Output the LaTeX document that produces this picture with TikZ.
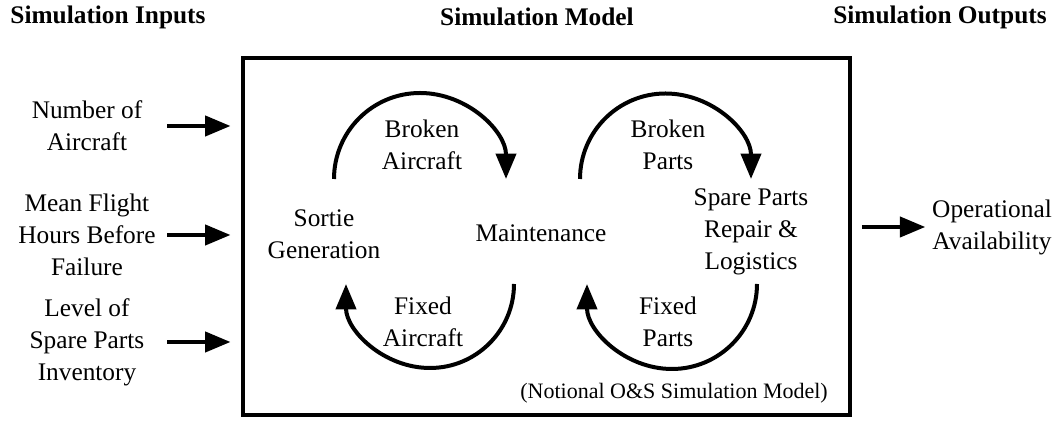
\documentclass[tikz,border=0pt]{standalone}
\usepackage{fontspec}
\setmainfont{Liberation Serif}
\usetikzlibrary{positioning, arrows.meta}

\begin{document}
\begin{tikzpicture}[x=0.75pt, y=0.75pt,
                  txt/.style={font=\fontsize{19}{24}\selectfont, align=center, inner sep=0pt},
                  hdr/.style={txt, font=\bfseries\fontsize{19}{24}\selectfont},
                  inbox/.style={txt, minimum width=120pt},
                  note/.style={txt, font=\fontsize{16.5}{20}\selectfont},
                  frame/.style={draw, line width=3pt, inner sep=0pt},
                  arr/.style={-{Triangle[length=19pt, width=15pt]}, line width=3pt},
            ]
            \useasboundingbox (0,0) rectangle (1060,423);

            \node[hdr] (hin) at (108,406) {Simulation Inputs};
            \node[hdr] (hmodel) at (537,406) {Simulation Model};
            \node[hdr] (hout) at (940,406) {Simulation Outputs};

            \node[frame, minimum width=455pt, minimum height=268pt] (model) at (546.5,186.5) {};

            \node[inbox] (nac) at (87,297) {Number of\\Aircraft};
            \node[inbox] (mfh) at (87,188) {Mean Flight\\Hours Before\\Failure};
            \node[inbox] (lsp) at (87,81) {Level of\\Spare Parts\\Inventory};
            \node[txt] (avail) at (992,196) {Operational\\Availability};

            \node[txt] (sortie) at (324,189) {Sortie\\Generation};
            \node[txt] (maint) at (541,190) {Maintenance};
            \node[txt] (spare) at (751,191) {Spare Parts\\Repair \&\\Logistics};

            \node[txt] (brokenac) at (422,278) {Broken\\Aircraft};
            \node[txt] (brokenpt) at (668,278) {Broken\\Parts};
            \node[txt] (fixedac) at (423,101) {Fixed\\Aircraft};
            \node[txt] (fixedpt) at (668,101) {Fixed\\Parts};
            \node[note, anchor=east] (notional) at (828,30) {(Notional O\&S Simulation Model)};

            \coordinate (sgout) at (334,244);
            \coordinate (mtout) at (580,244);
            \coordinate (mtback) at (514,139);
            \coordinate (spback) at (757,139);

            \foreach \n in {nac,mfh,lsp}
                  \draw[arr, shorten >=8pt] (\n.east) -- (\n.east -| model.west);
            \draw[arr, shorten <=7.5pt, shorten >=5pt] (model.east |- avail.west) -- (avail.west);

            \draw[arr] (sgout) arc[start angle=180, end angle=0, radius=86];
            \draw[arr] (mtout) arc[start angle=180, end angle=0, radius=85.5];
            \draw[arr] (mtback) arc[start angle=0, end angle=-180, radius=84];
            \draw[arr] (spback) arc[start angle=0, end angle=-180, radius=85];

      \end{tikzpicture}
\end{document}
